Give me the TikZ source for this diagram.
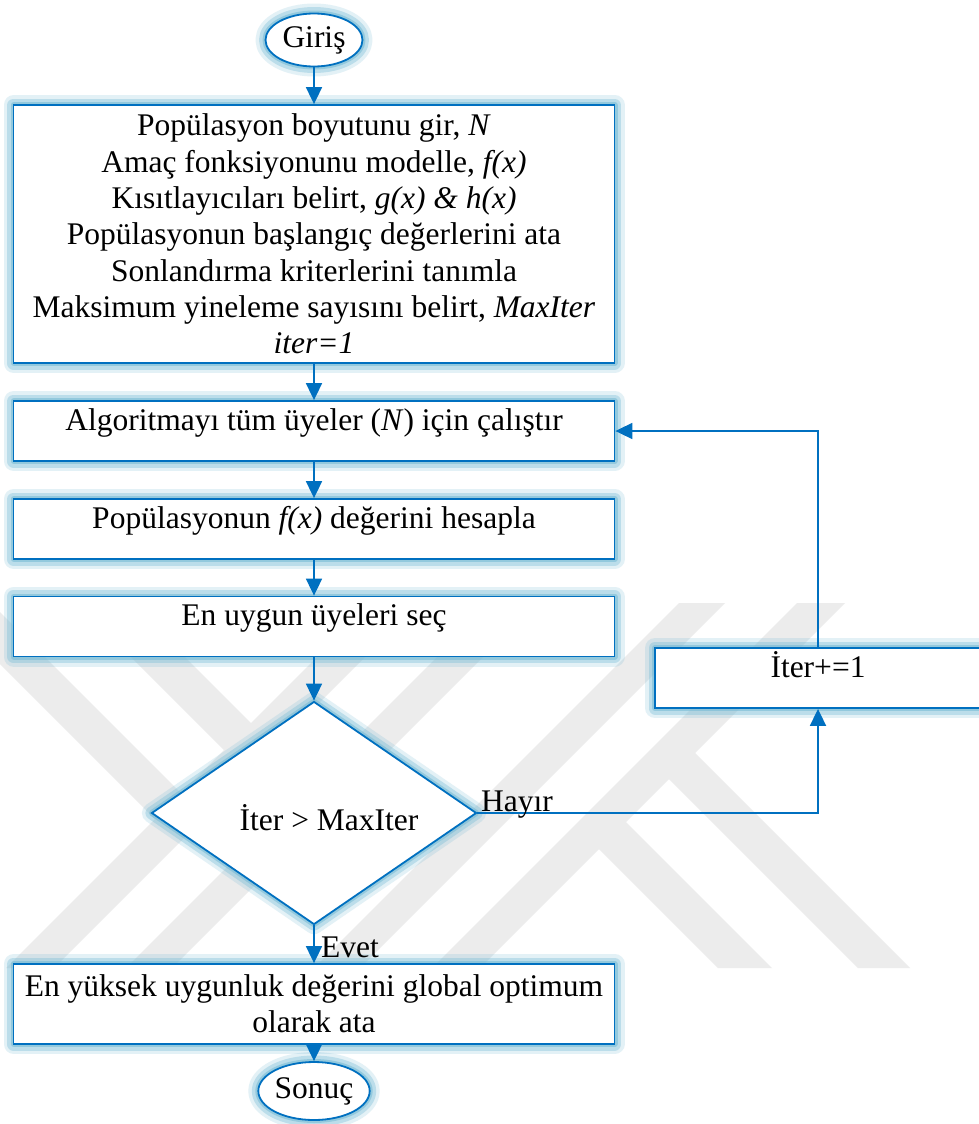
\documentclass[tikz,border=0pt]{standalone}
\usepackage{fontspec}
\setmainfont{Liberation Serif}
\usetikzlibrary{shapes.geometric,arrows.meta}
\definecolor{flowblue}{RGB}{0,112,192}
\definecolor{halo}{RGB}{115,185,212}
\definecolor{wmgray}{RGB}{236,236,236}

\begin{document}
\begin{tikzpicture}[x=1pt,y=-1pt,
  glow/.style={
    preaction={draw=halo,line width=20pt,draw opacity=0.2,line join=round},
    preaction={draw=halo,line width=13pt,draw opacity=0.35,line join=round},
    preaction={draw=halo,line width=6pt,draw opacity=0.55,line join=round}},
  shapebase/.style={draw=flowblue,line width=1.8pt,fill=white,glow},
  txt/.style={font=\fontsize{31.5}{36.3}\selectfont},
  box/.style={shapebase,txt,rectangle,minimum width=601pt,align=center,inner xsep=2pt},
  linebox/.style={box,text height=22pt,text depth=24pt,inner ysep=7pt},
  terminal/.style={shapebase,txt,ellipse,minimum width=97pt,minimum height=53pt,inner sep=0pt},
  decision/.style={shapebase,diamond,minimum width=325pt,minimum height=223pt,inner sep=0pt},
  lbl/.style={txt,inner sep=0pt},
  arr/.style={draw=flowblue,line width=1.8pt,-{Triangle[length=17pt,width=16pt]}},
]
\useasboundingbox (0,0) rectangle (979,1124);
\fill[white] (0,0) rectangle (979,1124);

% faint background emblem made of diagonal bands
\begin{scope}
  \clip (0,603) rectangle (979,968);
  \fill[wmgray] (371,603) -- (419,603) -- (54,968) -- (6,968) -- cycle;
  \fill[wmgray] (491,603) -- (537,603) -- (172,968) -- (126,968) -- cycle;
  \fill[wmgray] (679,603) -- (725,603) -- (360,968) -- (314,968) -- cycle;
  \fill[wmgray] (797,603) -- (845,603) -- (480,968) -- (432,968) -- cycle;
  \fill[wmgray] (660,770) -- (686,744) -- (910,968) -- (858,968) -- cycle;
  \fill[wmgray] (590,840) -- (617,813) -- (772,968) -- (718,968) -- cycle;
  \fill[wmgray] (-61,603) -- (-9,603) -- (191,803) -- (165,829) -- cycle;
  \fill[wmgray] (77,603) -- (131,603) -- (261,733) -- (234,760) -- cycle;
\end{scope}

% flowchart nodes
\node[terminal] (start) at (314,40) {Giriş};
\node[box,minimum height=258pt] (init) at (314,234) {%
  Popülasyon boyutunu gir, \textit{N}\\
  Amaç fonksiyonunu modelle, \textit{f(x)}\\
  Kısıtlayıcıları belirt, \textit{g(x) \& h(x)}\\
  Popülasyonun başlangıç değerlerini ata\\
  Sonlandırma kriterlerini tanımla\\
  Maksimum yineleme sayısını belirt, \textit{MaxIter}\\
  \textit{iter=1}};
\node[linebox] (run) at (314,431) {Algoritmayı tüm üyeler (\textit{N}) için çalıştır};
\node[linebox] (eval) at (314,529) {Popülasyonun \textit{f(x)} değerini hesapla};
\node[linebox] (select) at (314,626.5) {En uygun üyeleri seç};
\node[decision] (check) at (314,813) {};
\node[lbl] (cond) at (329,818) {İter > MaxIter};
\node[box,minimum height=80pt] (final) at (314,1004) {En yüksek uygunluk değerini global optimum\\olarak ata};
\node[terminal,minimum height=58pt] (end) at (314,1091) {Sonuç};
\node[linebox,minimum width=326pt] (inc) at (818,678) {İter+=1};

% connectors
\draw[arr] (start) -- (init);
\draw[arr] (init) -- (run);
\draw[arr] (run) -- (eval);
\draw[arr] (eval) -- (select);
\draw[arr] (select) -- (check.north);
\draw[arr] (check.south) -- (final.north);
\draw[arr] (final) -- (end);
\draw[arr] (check.east) -| (inc.south);
\draw[arr] (inc.north) |- (run.east);

% branch labels
\node[lbl,anchor=base west] (no) at (481,811) {Hayır};
\node[lbl,anchor=base west] (yes) at (321,957) {Evet};
\end{tikzpicture}
\end{document}
